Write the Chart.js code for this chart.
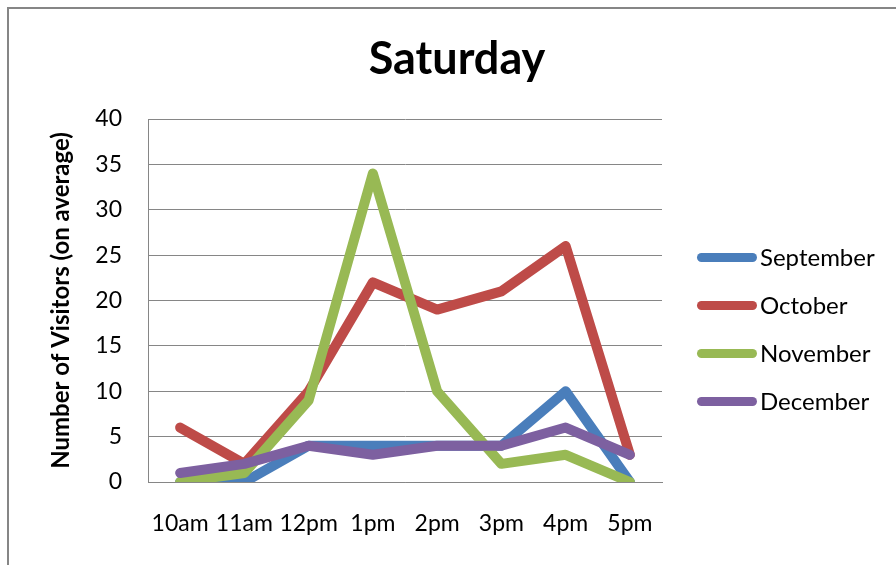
<!DOCTYPE html>
<html>
<head>
<meta charset="utf-8">
<script src="https://cdn.jsdelivr.net/npm/chart.js@4.4.0/dist/chart.umd.min.js"></script>
<style>
    body { margin: 0; background: #fff; font-family: Lato, sans-serif; }
    #wrap { position: relative; width: 896px; height: 565px; overflow: hidden; }
    #frame { position: absolute; left: 7px; top: 7px; width: 900px; height: 600px;
             border-left: 2px solid #868686; border-top: 2px solid #868686; }
    #title { position: absolute; left: 0; width: 914px; top: 30px; text-align: center;
             font-size: 45px; font-weight: bold; color: #000; }
    #legend { position: absolute; left: 697px; top: 243px; }
    .item { height: 48px; display: flex; align-items: flex-start; }
    .swatch { width: 60px; height: 9px; border-radius: 5px; margin-top: 10px; margin-right: 3px; }
    .label { font-size: 24px; line-height: 28px; color: #000; }
</style>
</head>
<body>
<div id="wrap">
    <div id="frame"></div>
    <canvas id="chart" width="896" height="565"></canvas>
    <div id="title">Saturday</div>
    <div id="legend"></div>
</div>
<script>
const hours = ['10am', '11am', '12pm', '1pm', '2pm', '3pm', '4pm', '5pm']
const months = ['September', 'October', 'November', 'December']
const september = [0, 0, 4, 4, 4, 4, 10, 0]
const october = [6, 2, 10, 22, 19, 21, 26, 3]
const november = [0, 1, 9, 34, 10, 2, 3, 0]
const december = [1, 2, 4, 3, 4, 4, 6, 3]
const colors = ['#4a7ebb', '#be4b48', '#98b954', '#7d60a0']

const series = [september, october, november, december]

const datasets = series.map((values, i) => ({
    label: months[i],
    data: values,
    borderColor: colors[i],
    backgroundColor: colors[i],
    borderWidth: 10,
    borderCapStyle: 'round',
    borderJoinStyle: 'round',
    pointRadius: 0,
    tension: 0,
    order: series.length - i
}))

const fontFamily = 'Lato, sans-serif'

new Chart(document.getElementById('chart'), {
    type: 'line',
    data: { labels: hours, datasets: datasets },
    options: {
        responsive: false,
        animation: false,
        layout: { padding: { top: 119, right: 234, bottom: 26, left: 0 } },
        plugins: {
            legend: { display: false },
            title: { display: false },
            tooltip: { enabled: false }
        },
        scales: {
            x: {
                offset: true,
                grid: { display: false, drawTicks: false },
                border: { color: '#868686', width: 1 },
                ticks: {
                    color: '#000', padding: 28, maxRotation: 0, minRotation: 0, autoSkip: false,
                    font: { family: fontFamily, size: 23 }
                },
                afterFit: (scale) => { scale.height = 57 }
            },
            y: {
                min: 0,
                max: 40,
                ticks: { stepSize: 5, color: '#000', padding: 26, font: { family: fontFamily, size: 23 } },
                grid: { color: '#868686', lineWidth: 1, drawTicks: false },
                border: { color: '#868686', width: 1 },
                title: {
                    display: true,
                    text: 'Number of Visitors (on average)',
                    color: '#000',
                    font: { family: fontFamily, size: 24, weight: 'bold' },
                    padding: { top: 47, bottom: 0 }
                },
                afterFit: (scale) => { scale.width = 148 }
            }
        }
    }
})

const legend = document.getElementById('legend')
months.forEach((name, i) => {
    legend.innerHTML += `
        <div class="item">
            <div class="swatch" style="background:${colors[i]}"></div>
            <div class="label">${name}</div>
        </div>
    `
})
</script>
</body>
</html>
